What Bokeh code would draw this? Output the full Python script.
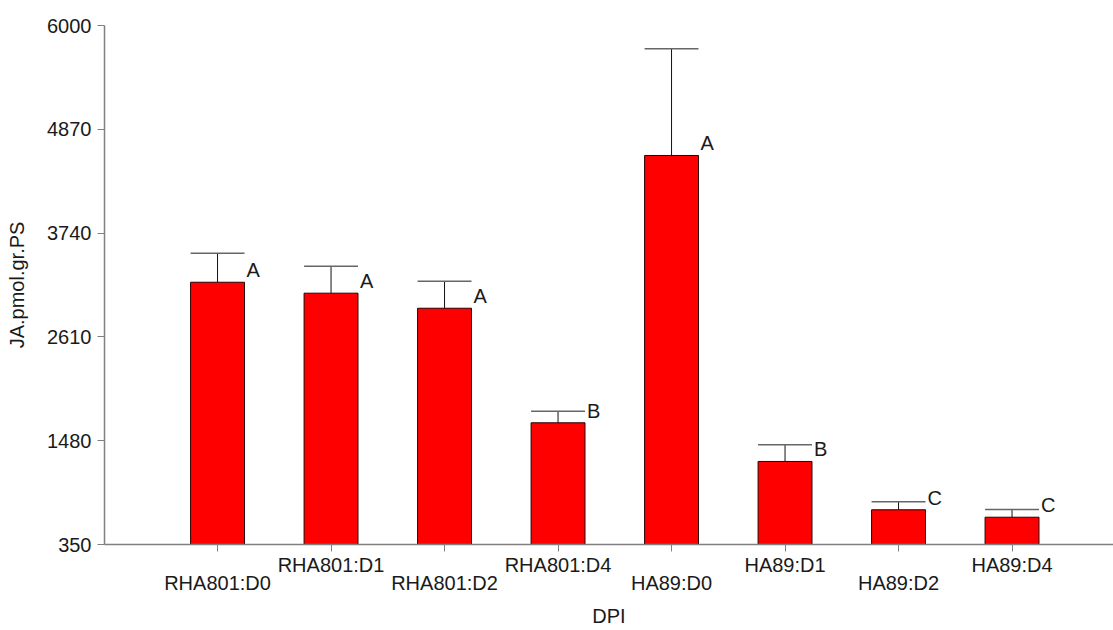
from bokeh.plotting import figure
from bokeh.models import Range1d, FixedTicker, ColumnDataSource, LabelSet
from bokeh.core.properties import value
from bokeh.embed import file_html
from bokeh.resources import INLINE

# JA content per genotype / sampling day, with standard error and group letter
categories = ["RHA801:D0", "RHA801:D1", "RHA801:D2", "RHA801:D4",
              "HA89:D0", "HA89:D1", "HA89:D2", "HA89:D4"]
means = [3205, 3086, 2922, 1675, 4585, 1254, 728, 647]
errors = [316, 294, 294, 126, 1161, 181, 87, 84]
groups = ["A", "A", "A", "B", "A", "B", "C", "C"]
y_ticks = [350, 1480, 2610, 3740, 4870, 6000]

FONT = "Liberation Sans"
AXIS_GREY = "#808080"
TEXT_COL = "#1a1a1a"
BAR_W = 0.475

xs = list(range(len(categories)))
src = ColumnDataSource(dict(
    x=xs,
    mean=means,
    top=[m + e for m, e in zip(means, errors)],
    left=[x - BAR_W / 2 for x in xs],
    right=[x + BAR_W / 2 for x in xs],
    group=groups,
))

p = figure(width=1113, height=630, output_backend="svg", toolbar_location=None,
           x_range=Range1d(-0.996, 7.894), y_range=Range1d(350, 6000),
           min_border_left=104, min_border_right=0, min_border_top=25,
           min_border_bottom=86)
p.outline_line_color = None
p.xgrid.visible = False
p.ygrid.visible = False
p.background_fill_color = "white"
p.border_fill_color = "white"

# bars
p.vbar(x="x", width=BAR_W, bottom=350, top="mean", source=src,
       fill_color="#ff0000", line_color="#2a0000", line_width=1)

# upper error bars: stem and cap
p.segment(x0="x", y0="mean", x1="x", y1="top", source=src,
          line_color="#111111", line_width=1)
p.segment(x0="left", y0="top", x1="right", y1="top", source=src,
          line_color="#666666", line_width=1.5)

# significance letters next to each bar
letters = LabelSet(x="right", y="mean", text="group", source=src,
                   x_offset=2, y_offset=5, text_baseline="alphabetic",
                   text_align="left", text_font=value(FONT),
                   text_font_size=value("20px"), text_color=value(TEXT_COL))
p.add_layout(letters)

# x axis: staggered category labels
xa = p.xaxis[0]
xa.ticker = FixedTicker(ticks=xs)
xa.major_label_overrides = {
    i: (name if i % 2 else "\n" + name) for i, name in enumerate(categories)
}
xa.major_label_text_line_height = 0.85
xa.minor_tick_line_color = None
xa.major_tick_in = 0
xa.major_tick_out = 7
xa.major_label_standoff = 2
xa.axis_line_color = AXIS_GREY
xa.axis_line_width = 1.5
xa.major_tick_line_color = AXIS_GREY
xa.major_label_text_font = FONT
xa.major_label_text_font_size = "20px"
xa.major_label_text_color = TEXT_COL
xa.axis_label = "DPI"
xa.axis_label_text_font = FONT
xa.axis_label_text_font_size = "20px"
xa.axis_label_text_font_style = "normal"
xa.axis_label_text_color = TEXT_COL
xa.axis_label_standoff = 8

# y axis
ya = p.yaxis[0]
ya.ticker = FixedTicker(ticks=y_ticks)
ya.minor_tick_line_color = None
ya.major_tick_in = 0
ya.major_tick_out = 7
ya.major_label_standoff = 6
ya.axis_line_color = AXIS_GREY
ya.axis_line_width = 1.5
ya.major_tick_line_color = AXIS_GREY
ya.major_label_text_font = FONT
ya.major_label_text_font_size = "20px"
ya.major_label_text_color = TEXT_COL
ya.axis_label = "JA.pmol.gr.PS"
ya.axis_label_text_font = FONT
ya.axis_label_text_font_size = "20px"
ya.axis_label_text_font_style = "normal"
ya.axis_label_text_color = TEXT_COL
ya.axis_label_standoff = 16

open("out.html", "w").write(file_html(p, INLINE))
